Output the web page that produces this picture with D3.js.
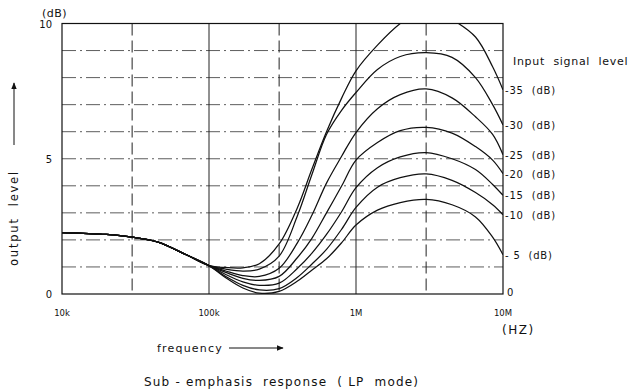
<!DOCTYPE html>
<html>
<head>
<meta charset="utf-8">
<script src="https://cdn.jsdelivr.net/npm/d3@7"></script>
<style>
  body { margin: 0; background: #fff; }
  text { font-family: "DejaVu Sans", sans-serif; fill: #111; }
</style>
</head>
<body>
<svg width="638" height="392"></svg>
<script>
// The data: shared low-frequency part, then one tail per input signal level
var lowFreqs = [1e4, 2e4, 3e4, 4.5e4, 7e4, 1e5];
var lowLevels = [2.27, 2.2, 2.1, 1.92, 1.45, 1.05];

var tailFreqs = [1.3e5, 1.7e5, 2.2e5, 3e5, 4e5, 5e5, 6.3e5, 8e5, 1e6, 1.4e6, 2e6, 3e6, 4.5e6, 6.5e6, 8.5e6, 1e7];

var inputLabels = ["-35", "-30", "-25", "-20", "-15", "-10", "- 5"];
var level35 = [0.98, 0.97, 1.12, 1.85, 3.2, 4.6, 6.0, 7.25, 8.25, 9.2, 10.0, 10.6, 10.15, 9.5, 8.4, 7.55];
var level30 = [0.92, 0.85, 0.92, 1.4, 2.9, 4.4, 5.9, 6.8, 7.45, 8.3, 8.78, 8.92, 8.75, 8.0, 7.0, 6.25];
var level25 = [0.85, 0.68, 0.65, 0.95, 1.9, 2.9, 4.1, 5.1, 5.97, 6.85, 7.37, 7.58, 7.25, 6.55, 5.9, 5.15];
var level20 = [0.8, 0.58, 0.5, 0.65, 1.35, 2.05, 3.0, 4.0, 4.95, 5.6, 6.04, 6.16, 5.95, 5.45, 4.95, 4.45];
var level15 = [0.72, 0.45, 0.32, 0.4, 0.95, 1.5, 2.2, 3.05, 3.93, 4.67, 5.07, 5.23, 5.0, 4.6, 4.05, 3.65];
var level10 = [0.65, 0.32, 0.15, 0.2, 0.62, 1.1, 1.65, 2.4, 3.2, 3.95, 4.3, 4.44, 4.2, 3.75, 3.3, 2.93];
var level5 = [0.6, 0.22, 0.03, 0.1, 0.48, 0.88, 1.3, 1.9, 2.55, 3.1, 3.38, 3.5, 3.3, 2.85, 2.1, 1.45];
var allLevels = [level35, level30, level25, level20, level15, level10, level5];

var xTicks = [1e4, 1e5, 1e6, 1e7];
var xTickLabels = ["10k", "100k", "1M", "10M"];
var yTicks = [0, 5, 10];

var nb = "\u00a0";

var svg = d3.select("svg");

var x = d3.scaleLog().domain([1e4, 1e7]).range([62, 503]);
var y = d3.scaleLinear().domain([0, 10]).range([294, 23.5]);

svg.append("rect").attr("width", 638).attr("height", 392).attr("fill", "#fff");

// clip for the curves
svg.append("clipPath").attr("id", "plot")
  .append("rect")
    .attr("x", x(1e4)).attr("y", y(10))
    .attr("width", x(1e7) - x(1e4)).attr("height", y(0) - y(10));

// horizontal dash-dot grid
svg.append("g")
  .selectAll("line")
  .data(d3.range(1, 10))
  .enter()
  .append("line")
    .attr("x1", x(1e4)).attr("x2", x(1e7))
    .attr("y1", function(d) { return y(d); })
    .attr("y2", function(d) { return y(d); })
    .attr("stroke", "#333")
    .attr("stroke-width", 0.8)
    .attr("stroke-dasharray", "14,4,2,4");

// vertical dashed grid
svg.append("g")
  .selectAll("line")
  .data([3e4, 3e5, 3e6])
  .enter()
  .append("line")
    .attr("x1", function(d) { return x(d); })
    .attr("x2", function(d) { return x(d); })
    .attr("y1", y(10)).attr("y2", y(0))
    .attr("stroke", "#222")
    .attr("stroke-width", 1)
    .attr("stroke-dasharray", "12,5");

// vertical solid decade lines
svg.append("g")
  .selectAll("line")
  .data([1e5, 1e6])
  .enter()
  .append("line")
    .attr("x1", function(d) { return x(d); })
    .attr("x2", function(d) { return x(d); })
    .attr("y1", y(10)).attr("y2", y(0))
    .attr("stroke", "#222")
    .attr("stroke-width", 1);

// frame
svg.append("rect")
  .attr("x", x(1e4)).attr("y", y(10))
  .attr("width", x(1e7) - x(1e4)).attr("height", y(0) - y(10))
  .attr("fill", "none")
  .attr("stroke", "#111")
  .attr("stroke-width", 1.2);

// the response curves
var line = d3.line()
  .x(function(d) { return x(d[0]); })
  .y(function(d) { return y(d[1]); })
  .curve(d3.curveCatmullRom.alpha(0.5));

svg.append("g")
  .attr("clip-path", "url(#plot)")
  .selectAll("path")
  .data(allLevels)
  .enter()
  .append("path")
    .attr("d", function(vals) {
      var pts = lowFreqs.map(function(f, i) { return [f, lowLevels[i]]; })
        .concat(tailFreqs.map(function(f, i) { return [f, vals[i]]; }));
      return line(pts);
    })
    .attr("fill", "none")
    .attr("stroke", "#111")
    .attr("stroke-width", 1.25);

// axis labels
svg.append("g")
  .selectAll("text")
  .data(yTicks)
  .enter()
  .append("text")
    .attr("x", 52)
    .attr("y", function(d) { return y(d) + 4; })
    .attr("text-anchor", "end")
    .attr("font-size", 10)
    .text(function(d) { return d; });

svg.append("text").attr("x", 42).attr("y", 17).attr("font-size", 11)
  .attr("letter-spacing", 0.5).text("(dB)");

svg.append("g")
  .selectAll("text")
  .data(xTicks)
  .enter()
  .append("text")
    .attr("x", function(d) { return x(d); })
    .attr("y", 316)
    .attr("text-anchor", "middle")
    .attr("font-size", 8.5)
    .text(function(d, i) { return xTickLabels[i]; });

svg.append("text").attr("x", 502).attr("y", 334).attr("font-size", 12)
  .attr("letter-spacing", 1.5).text("(HZ)");

// input level labels at the right edge
svg.append("text").attr("x", 513).attr("y", 65).attr("font-size", 11)
  .attr("letter-spacing", 0.7).text("Input" + nb + nb + "signal" + nb + nb + "level");

svg.append("g")
  .selectAll("text")
  .data(inputLabels)
  .enter()
  .append("text")
    .attr("x", 505)
    .attr("y", function(d, i) { return y(allLevels[i][tailFreqs.length - 1]) + 4; })
    .attr("font-size", 10)
    .attr("letter-spacing", 0.8)
    .text(function(d) { return d.replace(" ", nb) + nb + nb + "(dB)"; });

svg.append("text").attr("x", 507).attr("y", y(0) + 2).attr("font-size", 10).text("0");

// arrow marker
svg.append("defs").append("marker")
  .attr("id", "arrow")
  .attr("viewBox", "0 0 10 10")
  .attr("refX", 9).attr("refY", 5)
  .attr("markerWidth", 7).attr("markerHeight", 7)
  .attr("orient", "auto")
  .append("path")
    .attr("d", "M0,1L10,5L0,9z")
    .attr("fill", "#111");

// x title
svg.append("text").attr("x", 157).attr("y", 352).attr("font-size", 11)
  .attr("letter-spacing", 1.2).text("frequency");
svg.append("line")
  .attr("x1", 229).attr("x2", 283).attr("y1", 348).attr("y2", 348)
  .attr("stroke", "#111").attr("stroke-width", 1)
  .attr("marker-end", "url(#arrow)");

// y title
svg.append("text")
  .attr("transform", "translate(18,266) rotate(-90)")
  .attr("font-size", 11.5)
  .attr("letter-spacing", 1.8)
  .text("output" + nb + nb + "level");
svg.append("line")
  .attr("x1", 14).attr("x2", 14).attr("y1", 145).attr("y2", 83)
  .attr("stroke", "#111").attr("stroke-width", 1)
  .attr("marker-end", "url(#arrow)");

// caption
svg.append("text").attr("x", 144).attr("y", 386).attr("font-size", 12)
  .attr("letter-spacing", 1.2)
  .text("Sub - emphasis" + nb + nb + "response" + nb + nb + "( LP" + nb + nb + "mode)");
</script>
</body>
</html>
